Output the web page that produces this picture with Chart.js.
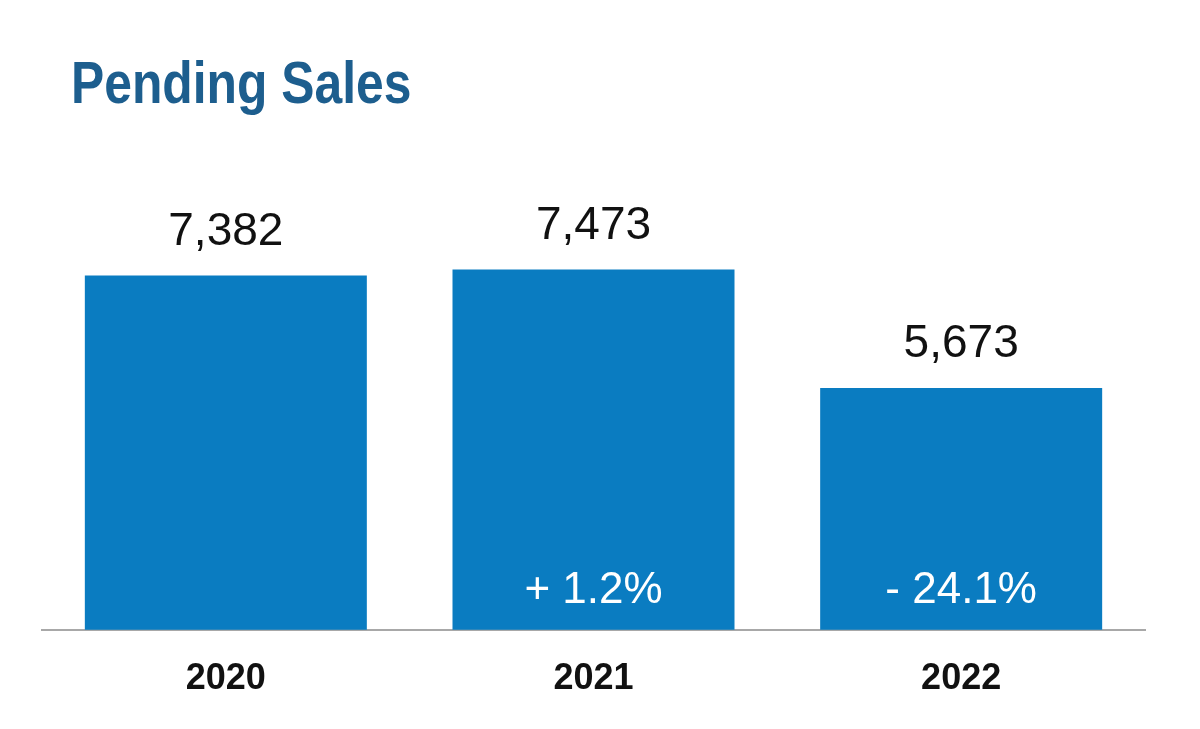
<!DOCTYPE html>
<html>
<head>
<meta charset="utf-8">
<script src="https://cdn.jsdelivr.net/npm/chart.js@4"></script>
<style>
html,body{margin:0;padding:0;background:#fff;}
#wrap{width:1200px;height:729px;position:relative;}
</style>
</head>
<body>
<div id="wrap"><canvas id="c" width="1200" height="729"></canvas></div>
<script>
const title = "Pending Sales";
const years = ["2020", "2021", "2022"];
const pendingSales = [7382, 7473, 5673];
const changeLabels = ["", "+ 1.2%", "- 24.1%"];

const labelPlugin = {
  id: 'labels',
  afterDatasetsDraw(chart) {
    const ctx = chart.ctx;
    const meta = chart.getDatasetMeta(0);
    ctx.save();
    ctx.textAlign = 'center';
    ctx.textBaseline = 'alphabetic';
    meta.data.forEach((bar, i) => {
      ctx.fillStyle = '#111';
      ctx.font = '46px "Liberation Sans", Arial, sans-serif';
      ctx.fillText(pendingSales[i].toLocaleString('en-US'), bar.x, bar.y - 31);
      if (changeLabels[i]) {
        ctx.fillStyle = '#ffffff';
        ctx.font = '44px "Liberation Sans", Arial, sans-serif';
        ctx.fillText(changeLabels[i], bar.x, chart.chartArea.bottom - 27);
      }
    });
    ctx.restore();
    ctx.save();
    ctx.textAlign = 'left';
    ctx.textBaseline = 'alphabetic';
    ctx.fillStyle = '#1d5e8e';
    ctx.font = 'bold 60px "Liberation Sans", Arial, sans-serif';
    ctx.translate(71, 103);
    ctx.scale(0.83, 1);
    ctx.fillText(title, 0, 0);
    ctx.restore();
  }
};

new Chart(document.getElementById('c'), {
  type: 'bar',
  data: {
    labels: years,
    datasets: [{
      data: pendingSales,
      backgroundColor: '#0a7cc1',
      borderWidth: 0,
      categoryPercentage: 1,
      barPercentage: 0.767
    }]
  },
  options: {
    responsive: false,
    animation: false,
    layout: { padding: { left: 42, right: 55, top: 169, bottom: 0 } },
    plugins: { legend: { display: false }, tooltip: { enabled: false }, title: { display: false } },
    scales: {
      y: { display: false, min: 2000, max: 9000 },
      x: {
        grid: { display: false, drawTicks: false },
        border: { display: true, color: '#a8a8a8', width: 2 },
        ticks: {
          color: '#111',
          padding: 28,
          font: { family: '"Liberation Sans", Arial, sans-serif', size: 36, weight: 'bold' }
        }
      }
    }
  },
  plugins: [labelPlugin]
});
</script>
</body>
</html>
